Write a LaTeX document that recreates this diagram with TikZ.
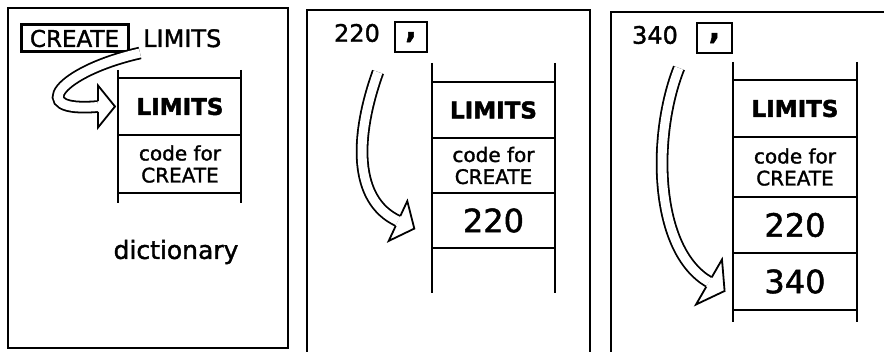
\documentclass[tikz,border=0pt]{standalone}
\usepackage{fontspec}
\setmainfont{DejaVu Sans}[RawFeature={embolden=1.5}]
\newfontfamily\heavyfont{DejaVu Sans Bold}[RawFeature={embolden=2}]

\tikzset{
  panel/.style={line width=1.8pt},
  ladder/.style={line width=1.8pt},
  hollow/.style={line width=1.8pt, double=white, double distance=9pt},
  arrowhead/.style={line width=1.8pt, fill=white, line join=miter},
  cell/.style={inner sep=0pt, align=center},
  commabox/.style={draw, line width=2.4pt, minimum width=32pt, minimum height=30pt,
    inner sep=0pt, text depth=4pt, font=\fontsize{30}{30}\selectfont\heavyfont},
}

\begin{document}
\begin{tikzpicture}[x=1pt,y=1pt]
\useasboundingbox (0,0) rectangle (884,351);
% panels
\draw[panel] (8,3) rectangle (288,343);
\draw[panel] (307,-2) -- (307,341) -- (590,341) -- (590,-2);
\draw[panel] (611,-2) -- (611,339) -- (886,339);

% first panel
\node[draw, line width=3pt, inner sep=2pt, minimum width=107pt, minimum height=27pt,
  font=\fontsize{23}{23}\selectfont] (create) at (74.5,312.5) {CREATE};
\node[anchor=base west, inner sep=0pt, font=\fontsize{24}{24}\selectfont] (word) at (143,304) {LIMITS};
\draw[ladder] (118,281) -- (118,148);
\draw[ladder] (241,281) -- (241,148);
\draw[ladder] (118,273) -- (241,273);
\draw[ladder] (118,216) -- (241,216);
\draw[ladder] (118,158) -- (241,158);
\node[cell, font=\fontsize{23}{23}\selectfont\heavyfont] (name1) at (180,244.5) {LIMITS};
\node[cell, font=\fontsize{20}{22}\selectfont] (code1) at (180,187) {code for\\CREATE};
\node[font=\fontsize{25}{25}\selectfont] (dict) at (176,99) {dictionary};
\coordinate (tail1) at (140,298);
\coordinate (end1) at (98,244.5);
\draw[hollow] (tail1) .. controls (60,280) and (25,238) .. (end1);
\draw[arrowhead, shift={(end1)}] (0,5.4) -- (0,21) -- (17,0) -- (0,-21) -- (0,-5.4);

% second panel
\node[inner sep=0pt, font=\fontsize{24}{24}\selectfont] (num2) at (357,318) {220};
\node[commabox] (comma2) at (411,314) {,};
\draw[ladder] (432,288) -- (432,58);
\draw[ladder] (555,288) -- (555,58);
\draw[ladder] (432,269) -- (555,269);
\draw[ladder] (432,213) -- (555,213);
\draw[ladder] (432,158) -- (555,158);
\draw[ladder] (432,103) -- (555,103);
\node[cell, font=\fontsize{23}{23}\selectfont\heavyfont] (name2) at (493.5,241) {LIMITS};
\node[cell, font=\fontsize{20}{22}\selectfont] (code2) at (493.5,185.5) {code for\\CREATE};
\node[cell, font=\fontsize{32}{32}\selectfont] (val2) at (493.5,130.5) {220};
\coordinate (tail2) at (378,279);
\coordinate (end2) at (398,130);
\draw[hollow] (tail2) .. controls (355,215) and (353,151) .. (end2);
\draw[arrowhead, shift={(end2)}, rotate=-25] (0,5.4) -- (0,22) -- (18,0) -- (0,-22) -- (0,-5.4);

% third panel
\node[inner sep=0pt, font=\fontsize{24}{24}\selectfont] (num3) at (655,316) {340};
\node[commabox, minimum width=35pt] (comma3) at (714.5,313) {,};
\draw[ladder] (733,289) -- (733,29);
\draw[ladder] (857,289) -- (857,29);
\draw[ladder] (733,271) -- (857,271);
\draw[ladder] (733,214) -- (857,214);
\draw[ladder] (733,154) -- (857,154);
\draw[ladder] (733,98) -- (857,98);
\draw[ladder] (733,41) -- (857,41);
\node[cell, font=\fontsize{23}{23}\selectfont\heavyfont] (name3) at (795,242.5) {LIMITS};
\node[cell, font=\fontsize{20}{22}\selectfont] (code3) at (795,184) {code for\\CREATE};
\node[cell, font=\fontsize{32}{32}\selectfont] (val3a) at (795,126) {220};
\node[cell, font=\fontsize{32}{32}\selectfont] (val3b) at (795,69.5) {340};
\coordinate (tail3) at (679,283);
\coordinate (end3) at (709,69);
\draw[hollow] (tail3) .. controls (652,215) and (654,101) .. (end3);
\draw[arrowhead, shift={(end3)}, rotate=-30] (0,5.4) -- (0,26) -- (18,0) -- (0,-26) -- (0,-5.4);
\end{tikzpicture}
\end{document}
